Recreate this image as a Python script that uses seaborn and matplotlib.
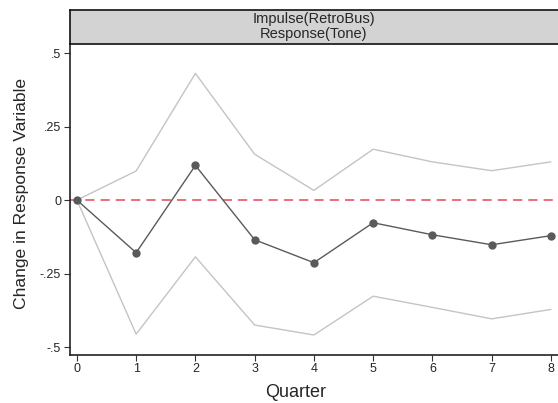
import matplotlib
matplotlib.use("Agg")
import matplotlib.pyplot as plt
import seaborn as sns
import pandas as pd

quarters = [0, 1, 2, 3, 4, 5, 6, 7, 8]
irf = [0.0, -0.179, 0.118, -0.135, -0.213, -0.077, -0.118, -0.152, -0.121]
upper = [0.0, 0.099, 0.431, 0.156, 0.033, 0.173, 0.130, 0.100, 0.130]
lower = [0.0, -0.456, -0.193, -0.425, -0.459, -0.327, -0.365, -0.404, -0.372]
yticks = [-0.5, -0.25, 0, 0.25, 0.5]
ytick_labels = ["-.5", "-.25", "0", ".25", ".5"]
title_lines = ["Impulse(RetroBus)", "Response(Tone)"]

df = pd.DataFrame({"Quarter": quarters, "irf": irf, "upper": upper, "lower": lower})

sns.set_theme(style="white")
plt.rcParams["font.family"] = ["Liberation Sans", "DejaVu Sans"]

fig = plt.figure(figsize=(5.58, 4.03), dpi=100)
ax = fig.add_axes([69.5 / 558, 48 / 403, 1 - 69.5 / 558, (355 - 44) / 403])

sns.lineplot(data=df, x="Quarter", y="upper", ax=ax, color="#c4c4c4", linewidth=1.0)
sns.lineplot(data=df, x="Quarter", y="lower", ax=ax, color="#c4c4c4", linewidth=1.0)
ax.axhline(0, color="#e8474b", linestyle=(0, (6, 4)), linewidth=1.1, zorder=1)
sns.lineplot(data=df, x="Quarter", y="irf", ax=ax, color="#5a5a5a", linewidth=1.0,
             marker="o", markersize=6, markeredgewidth=0, zorder=3)

ax.set_xlim(-0.125, 8.12)
ax.set_ylim(-0.527, 0.531)
ax.set_xticks(quarters)
ax.set_xticklabels([str(q) for q in quarters], fontsize=9)
ax.set_yticks(yticks)
ax.set_yticklabels(ytick_labels, fontsize=9)
ax.tick_params(axis="both", direction="out", length=4, width=0.8, color="#333333",
               left=True, bottom=True, pad=2)
ax.set_xlabel("Quarter", fontsize=13)
ax.set_ylabel("Change in Response Variable", fontsize=12.6)
ax.xaxis.set_label_coords(0.4626, -0.092)
ax.yaxis.set_label_coords(-0.083, 0.521)
for s in ["top", "right"]:
    ax.spines[s].set_visible(False)
for s in ["left", "bottom"]:
    ax.spines[s].set_color("#222222")
    ax.spines[s].set_linewidth(1.2)

# header strip
hax = fig.add_axes([69.5 / 558, (403 - 44) / 403, 1 - 69.5 / 558, 34 / 403])
hax.set_xlim(0, 1)
hax.set_ylim(0, 34)
hax.set_facecolor("#d3d3d3")
hax.spines["right"].set_visible(False)
for s in ["top", "bottom", "left"]:
    hax.spines[s].set_color("#111111")
    hax.spines[s].set_linewidth(1.2)
hax.set_xticks([])
hax.set_yticks([])
hax.text(0.5, 34 - 9.5, title_lines[0], ha="center", va="center", fontsize=10.5)
hax.text(0.5, 34 - 24, title_lines[1], ha="center", va="center", fontsize=10.5)

fig.savefig("out.png", dpi=100)
